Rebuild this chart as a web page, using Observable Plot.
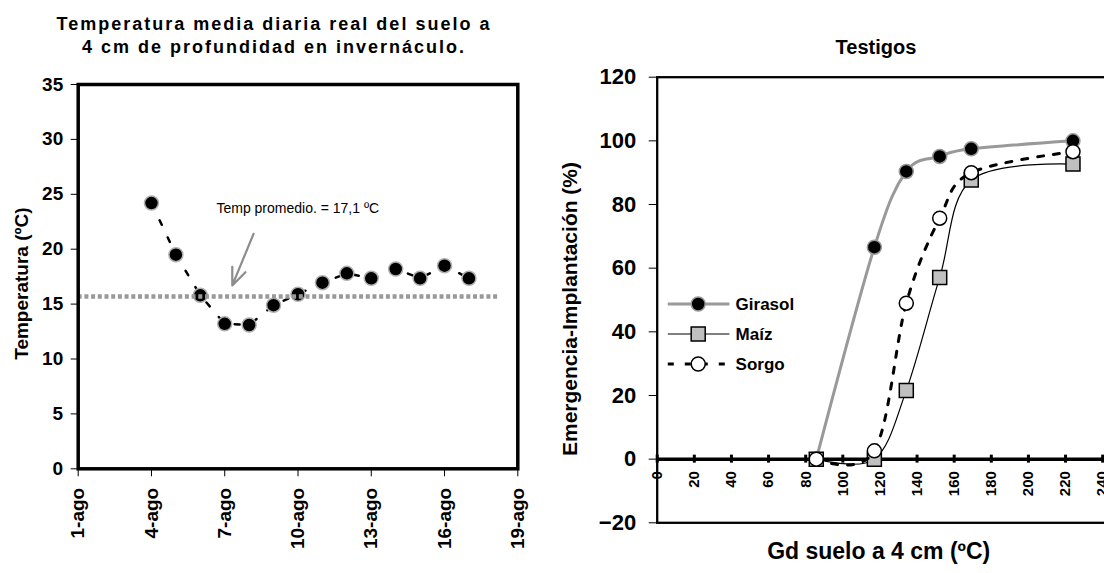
<!DOCTYPE html>
<html>
<head>
<meta charset="utf-8">
<script src="https://cdn.jsdelivr.net/npm/d3@7"></script>
<script src="https://cdn.jsdelivr.net/npm/@observablehq/plot@0.6"></script>
<style>
  html, body { margin: 0; padding: 0; background: #fff; }
  #wrap { position: relative; width: 1104px; height: 573px; overflow: hidden; background: #fff;
          font-family: "Liberation Sans", Arial, sans-serif; }
  .abs { position: absolute; }
  #t1 { left: 0; width: 548px; top: 13px; text-align: center; font-size: 18px; font-weight: bold;
        letter-spacing: 2px; line-height: 23px; color: #000; }
  #t2 { left: 776px; width: 200px; top: 35px; text-align: center; font-size: 20px; font-weight: bold;
        line-height: 24px; color: #000; }
</style>
</head>
<body>
<div id="wrap">
  <div id="left" class="abs" style="left:0;top:0"></div>
  <div id="right" class="abs" style="left:540px;top:0"></div>
  <div id="legend" class="abs" style="left:0;top:0"></div>
  <div id="t1" class="abs">Temperatura media diaria real del suelo a<br>4 cm de profundidad en invernáculo.</div>
  <div id="t2" class="abs">Testigos</div>
</div>
<script>
// ---------- Left chart data ----------
const days = [4, 5, 6, 7, 8, 9, 10, 11, 12, 13, 14, 15, 16, 17];
const temps = [24.2, 19.5, 15.8, 13.2, 13.1, 14.9, 15.9, 16.95, 17.8, 17.35, 18.2, 17.35, 18.5, 17.35];
const meanLevel = 15.7;
const meanSpan = [1, 18.2];
const dayTicks = [1, 4, 7, 10, 13, 16, 19];
const tempTicks = [0, 5, 10, 15, 20, 25, 30, 35];
const annotationText = "Temp promedio. = 17,1 ºC";
const annotationPos = [{x: 6.66, y: 23.7}];
const arrowPos = [{x1: 8.18, y1: 21.4, x2: 7.31, y2: 16.7}];

// ---------- Right chart data ----------
const gd = [85.7, 117, 134.2, 152.2, 169.2, 224];
const girasol = [0, 66.6, 90.4, 95.1, 97.5, 100];
const maiz = [0, 0, 21.6, 57.1, 87.7, 92.7];
const sorgo = [0, 2.6, 49, 75.7, 90, 96.6];
const gdTicks = [0, 20, 40, 60, 80, 100, 120, 140, 160, 180, 200, 220, 240, 260];
const pctTicks = [-20, 0, 20, 40, 60, 80, 100, 120];
const seriesNames = ["Girasol", "Maíz", "Sorgo"];

const FONT = '"Liberation Sans", Arial, sans-serif';

// ---------- Left plot ----------
const tempData = days.map((d, i) => ({day: d, t: temps[i]}));
const left = Plot.plot({
  width: 540, height: 573,
  marginLeft: 77.7, marginRight: 22.7, marginTop: 84, marginBottom: 104.7,
  x: {domain: [1, 19]},
  y: {domain: [0, 35]},
  style: {fontFamily: FONT, background: "transparent", overflow: "visible", maxWidth: "none", color: "#000"},
  marks: [
    Plot.line(tempData, {x: "day", y: "t", stroke: "#000", strokeWidth: 2.5, strokeDasharray: "5,14"}),
    Plot.dot(tempData, {x: "day", y: "t", r: 7, fill: "#000", stroke: "#b0b0b0", strokeWidth: 1.5}),
    Plot.ruleY([meanLevel], {x1: meanSpan[0], x2: meanSpan[1], stroke: "#999", strokeWidth: 4.5, strokeDasharray: "4,2.7"}),
    Plot.arrow(arrowPos, {x1: "x1", y1: "y1", x2: "x2", y2: "y2", stroke: "#8c8c8c", strokeWidth: 2.2, headLength: 14, headAngle: 45}),
    Plot.text(annotationPos, {x: "x", y: "y", text: () => annotationText, textAnchor: "start", fontSize: 14, fill: "#000"}),
    Plot.frame({stroke: "#000", strokeWidth: 3.5}),
    Plot.axisY({ticks: tempTicks, tickSize: 7, tickPadding: 8, fontSize: 19, fontWeight: "bold", label: null}),
    Plot.axisX({ticks: dayTicks, tickFormat: d => `${d}-ago`, tickRotate: -90, tickSize: 8, tickPadding: 11,
                fontSize: 19, fontWeight: "bold", label: null}),
    Plot.text(["Temperatura (ºC)"], {frameAnchor: "left", textAnchor: "middle", dx: -56, dy: 7, rotate: -90, fontSize: 19, fontWeight: "bold"})
  ]
});
document.getElementById("left").appendChild(left);

// ---------- Right plot ----------
const W2 = 620, H2 = 573, mt2 = 76.7, mb2 = 50.7, ml2 = 116.7, mr2 = 20.7;
const yDom = [-20, 120];
const innerH2 = H2 - mt2 - mb2;
const zeroDy = -((0 - yDom[0]) / (yDom[1] - yDom[0])) * innerH2;

const rows = s => gd.map((g, i) => ({gd: g, v: s[i]}));
const gir = rows(girasol), mai = rows(maiz), sor = rows(sorgo);

const right = Plot.plot({
  width: W2, height: H2,
  marginLeft: ml2, marginRight: mr2, marginTop: mt2, marginBottom: mb2,
  x: {domain: [0, 260]},
  y: {domain: yDom},
  style: {fontFamily: FONT, background: "transparent", overflow: "visible", maxWidth: "none", color: "#000"},
  marks: [
    Plot.ruleY([0], {stroke: "#000", strokeWidth: 3.5}),
    Plot.axisX({ticks: gdTicks, tickSize: 8, tickPadding: 8, dy: zeroDy - 4, tickRotate: -90,
                fontSize: 15, fontWeight: "bold", strokeWidth: 3, label: null}),
    Plot.line(gir, {x: "gd", y: "v", stroke: "#999", strokeWidth: 3, curve: "cardinal"}),
    Plot.dot(gir, {x: "gd", y: "v", r: 7, fill: "#000", stroke: "#999", strokeWidth: 1.5}),
    Plot.line(mai, {x: "gd", y: "v", stroke: "#000", strokeWidth: 1.2, curve: "cardinal"}),
    Plot.dot(mai, {x: "gd", y: "v", r: 7.9, symbol: "square", fill: "#c0c0c0", stroke: "#000", strokeWidth: 1.5}),
    Plot.line(sor, {x: "gd", y: "v", stroke: "#000", strokeWidth: 3, strokeDasharray: "6,10", curve: "cardinal"}),
    Plot.dot(sor, {x: "gd", y: "v", r: 7, fill: "#fff", stroke: "#000", strokeWidth: 1.5}),
    Plot.frame({stroke: "#000", strokeWidth: 2.3}),
    Plot.axisY({ticks: pctTicks, tickSize: 8, tickPadding: 13, fontSize: 22, fontWeight: "bold", label: null}),
    Plot.text(["Emergencia-Implantación (%)"], {frameAnchor: "left", textAnchor: "middle", dx: -86.7, dy: 9, rotate: -90, fontSize: 21, fontWeight: "bold"}),
    Plot.text(["Gd suelo a 4 cm (ºC)"], {frameAnchor: "bottom-left", textAnchor: "middle", dx: 221.5, dy: 36, fontSize: 23, fontWeight: "bold"})
  ]
});
document.getElementById("right").appendChild(right);

// ---------- Legend (inside right plot area) ----------
const lg = d3.create("svg").attr("width", 1104).attr("height", 573)
  .style("display", "block").style("font-family", FONT);
const legendItems = [
  {name: seriesNames[0], y: 304, line: {stroke: "#999", w: 3, dash: null}, mark: "circle", fill: "#000", stroke: "#999"},
  {name: seriesNames[1], y: 334, line: {stroke: "#000", w: 1.2, dash: null}, mark: "square", fill: "#c0c0c0", stroke: "#000"},
  {name: seriesNames[2], y: 364, line: {stroke: "#000", w: 3, dash: "6,11"}, mark: "circle", fill: "#fff", stroke: "#000"}
];
const lx1 = 667.8, lx2 = 729.4, lmx = 698.2, ltx = 735.6;
for (const it of legendItems) {
  const g = lg.append("g");
  g.append("line").attr("x1", lx1).attr("x2", lx2).attr("y1", it.y).attr("y2", it.y)
    .attr("stroke", it.line.stroke).attr("stroke-width", it.line.w)
    .attr("stroke-dasharray", it.line.dash);
  if (it.mark === "circle") {
    g.append("circle").attr("cx", lmx).attr("cy", it.y).attr("r", 7)
      .attr("fill", it.fill).attr("stroke", it.stroke).attr("stroke-width", 1.5);
  } else {
    g.append("rect").attr("x", lmx - 7).attr("y", it.y - 7).attr("width", 14).attr("height", 14)
      .attr("fill", it.fill).attr("stroke", it.stroke).attr("stroke-width", 1.5);
  }
  g.append("text").attr("x", ltx).attr("y", it.y).attr("dy", "0.35em")
    .attr("font-size", 17).attr("font-weight", "bold").text(it.name);
}
document.getElementById("legend").appendChild(lg.node());
</script>
</body>
</html>
